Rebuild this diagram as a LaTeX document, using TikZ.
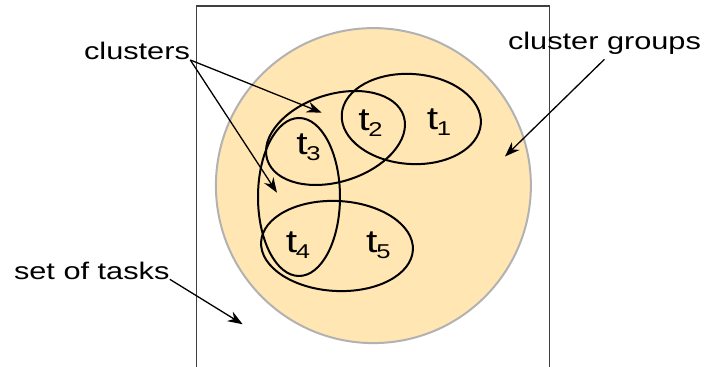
\documentclass[tikz,border=0pt]{standalone}
\usepackage{fontspec}
\setmainfont{Liberation Sans}[FakeStretch=1.28]
\usetikzlibrary{arrows.meta}
\definecolor{groupfill}{RGB}{255,230,179}
\newcommand{\tk}[1]{t\kern-0.6pt\raisebox{-2.6pt}{\fontsize{10}{10}\selectfont #1}}

\begin{document}
\begin{tikzpicture}[x=0.5pt,y=-0.5pt,
	clus/.style={line width=1pt},
	lbl/.style={inner sep=0pt,anchor=base,font=\fontsize{12}{14}\selectfont},
	task/.style={inner sep=0pt,anchor=base,font=\fontsize{16}{18}\selectfont},
	pointer/.style={line width=0.65pt,-{Stealth[length=7.5pt,width=5.5pt]}}]
	\useasboundingbox (0,0) rectangle (709,367);
	\draw[black!75,line width=0.7pt] (196.7,367)--(196.7,6)--(549.3,6)--(549.3,367);
	\draw[fill=groupfill,draw=black!30,line width=1pt] (373.4,185.6) circle (157.5);
	% clusters
	\draw[clus,rotate around={-4:(411.3,119)}] (411.3,119) ellipse [x radius=69.7,y radius=45];
	\draw[clus,rotate around={17.7:(335.5,138)}] (335.5,138) ellipse [x radius=71.6,y radius=43.7];
	\draw[clus] (299,197) ellipse [x radius=41,y radius=79];
	\draw[clus,rotate around={-3:(337,246)}] (337,246) ellipse [x radius=76,y radius=45];
	\node[task] (t1) at (439,130) {\tk{1}};
	\node[task] (t2) at (370.5,131) {\tk{2}};
	\node[task] (t3) at (308.5,155) {\tk{3}};
	\node[task] (t4) at (298,253) {\tk{4}};
	\node[task] (t5) at (378.3,253) {\tk{5}};
	% labels
	\node[lbl] (clu) at (137,60) {clusters};
	\node[lbl] (grp) at (604.5,49.3) {cluster groups};
	\node[lbl] (tasks) at (91.7,279.3) {set of tasks};
	\coordinate (c23) at (321.7,112.7);
	\coordinate (c34) at (277,192.7);
	\coordinate (cg) at (505,156.5);
	\coordinate (st) at (242.7,324.3);
	\draw[pointer] (clu.base east)--(c23);
	\draw[pointer] (clu.base east)--(c34);
	\draw[pointer] ([yshift=-2.3pt]grp.south)--(cg);
	\draw[pointer] (tasks.base east)--(st);
\end{tikzpicture}
\end{document}
